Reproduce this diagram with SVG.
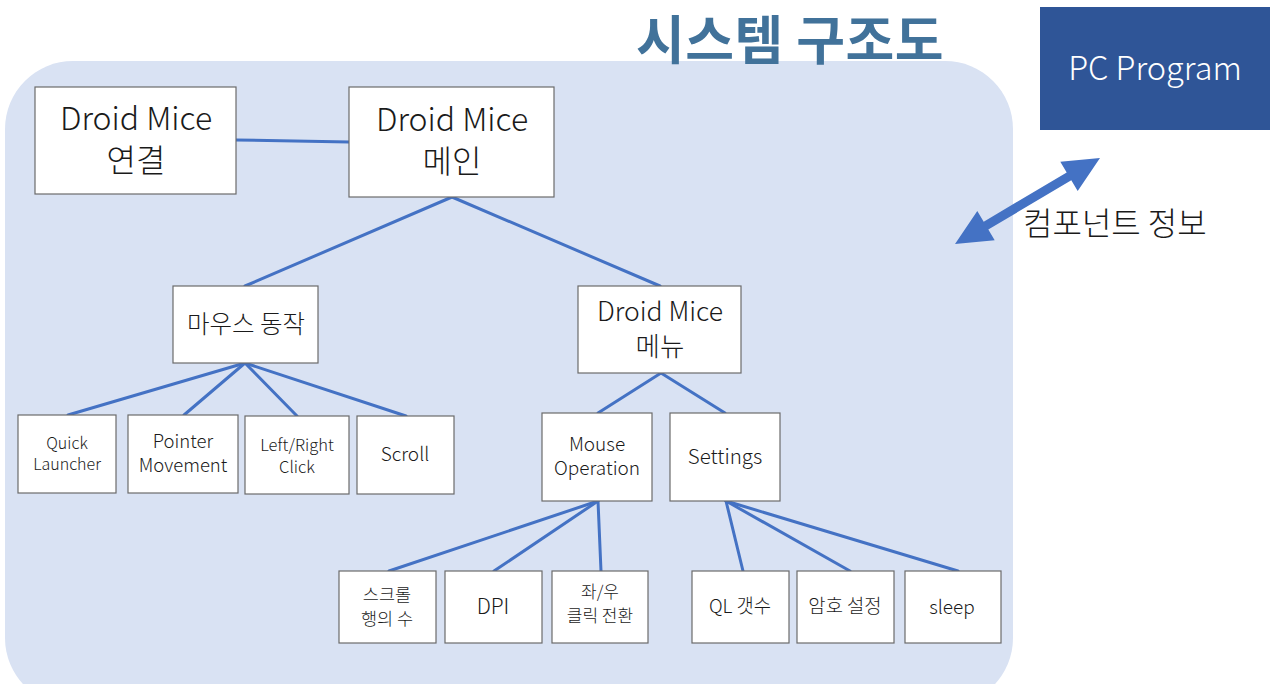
<svg xmlns="http://www.w3.org/2000/svg" width="1273" height="684" viewBox="0 0 1273 684">
  <style>
    text { font-family: "Noto Sans CJK KR", "Noto Sans", sans-serif; font-weight: 300; fill: #1a1a1a; text-anchor: middle; }
    .box { fill: #ffffff; stroke: #6b6b6b; stroke-width: 1.2; }
    .link { stroke: #4472c4; stroke-width: 3; fill: none; stroke-linecap: round; }
    .title { font-weight: 700; fill: #41729a; font-size: 53px; text-anchor: start; letter-spacing: 0.5px; }
  </style>

  <rect width="1273" height="684" fill="#ffffff"/>

  <!-- system area -->
  <rect x="5" y="61" width="1008" height="645" rx="68" ry="68" fill="#d9e2f3"/>

  <text class="title" x="636" y="60">시스템 구조도</text>

  <!-- connectors -->
  <g id="connectors">
    <line class="link" x1="236" y1="140" x2="349" y2="142"/>
    <line class="link" x1="452" y1="197" x2="245" y2="286"/>
    <line class="link" x1="452" y1="197" x2="660" y2="286"/>
    <line class="link" x1="245" y1="363" x2="68" y2="415"/>
    <line class="link" x1="245" y1="363" x2="184" y2="415"/>
    <line class="link" x1="245" y1="363" x2="297" y2="416"/>
    <line class="link" x1="245" y1="363" x2="406" y2="416"/>
    <line class="link" x1="661" y1="373" x2="598" y2="413"/>
    <line class="link" x1="661" y1="373" x2="725" y2="413"/>
    <line class="link" x1="598" y1="501" x2="389" y2="571"/>
    <line class="link" x1="598" y1="501" x2="494" y2="571"/>
    <line class="link" x1="598" y1="501" x2="601" y2="571"/>
    <line class="link" x1="726" y1="501" x2="743" y2="571"/>
    <line class="link" x1="726" y1="501" x2="850" y2="571"/>
    <line class="link" x1="726" y1="501" x2="958" y2="571"/>
    <!-- double arrow to PC program -->
    <polygon fill="#4472c4" points="955,244 994.7,240.2 988.3,229.5 1071.3,180.3 1077.7,191 1100,158 1060.3,161.8 1066.7,172.5 983.7,221.7 977.3,211"/>
  </g>

  <g id="n-connect">
    <rect class="box" x="35" y="87" width="201" height="107"/>
    <text x="136" y="130" font-size="32">Droid Mice</text>
    <text x="136" y="172" font-size="32">연결</text>
  </g>
  <g id="n-main">
    <rect class="box" x="349" y="87" width="205" height="110"/>
    <text x="452" y="131" font-size="32">Droid Mice</text>
    <text x="452" y="173" font-size="32">메인</text>
  </g>
  <g id="n-mouse-action">
    <rect class="box" x="173" y="286" width="145" height="77"/>
    <text x="246" y="333" font-size="24.5">마우스 동작</text>
  </g>
  <g id="n-menu">
    <rect class="box" x="578" y="286" width="163" height="87"/>
    <text x="660" y="321" font-size="26.5">Droid Mice</text>
    <text x="660" y="356" font-size="26.5">메뉴</text>
  </g>

  <g id="n-quick">
    <rect class="box" x="18" y="415" width="98" height="78"/>
    <text x="67" y="449" font-size="16">Quick</text>
    <text x="67" y="470" font-size="16">Launcher</text>
  </g>
  <g id="n-pointer">
    <rect class="box" x="128" y="415" width="110" height="78"/>
    <text x="183" y="448" font-size="18.5">Pointer</text>
    <text x="183" y="472" font-size="18.5">Movement</text>
  </g>
  <g id="n-click">
    <rect class="box" x="245" y="416" width="104" height="78"/>
    <text x="297" y="451" font-size="16.5">Left/Right</text>
    <text x="297" y="473" font-size="16.5">Click</text>
  </g>
  <g id="n-scroll">
    <rect class="box" x="357" y="416" width="97" height="78"/>
    <text x="405" y="461" font-size="19">Scroll</text>
  </g>

  <g id="n-mouse-op">
    <rect class="box" x="542" y="413" width="110" height="88"/>
    <text x="597" y="451" font-size="19">Mouse</text>
    <text x="597" y="475" font-size="19">Operation</text>
  </g>
  <g id="n-settings">
    <rect class="box" x="670" y="413" width="110" height="88"/>
    <text x="725" y="464" font-size="20.5">Settings</text>
  </g>

  <g id="n-scroll-lines">
    <rect class="box" x="339" y="571" width="97" height="72"/>
    <text x="387" y="601" font-size="17.5">스크롤</text>
    <text x="387" y="625" font-size="17.5">행의 수</text>
  </g>
  <g id="n-dpi">
    <rect class="box" x="445" y="571" width="97" height="72"/>
    <text x="493" y="614" font-size="21">DPI</text>
  </g>
  <g id="n-swap">
    <rect class="box" x="552" y="571" width="96" height="72"/>
    <text x="600" y="598" font-size="17">좌/우</text>
    <text x="600" y="622" font-size="17">클릭 전환</text>
  </g>
  <g id="n-ql-count">
    <rect class="box" x="692" y="571" width="97" height="72"/>
    <text x="740" y="613" font-size="18.8">QL 갯수</text>
  </g>
  <g id="n-password">
    <rect class="box" x="797" y="571" width="97" height="72"/>
    <text x="845" y="613" font-size="18.8">암호 설정</text>
  </g>
  <g id="n-sleep">
    <rect class="box" x="905" y="571" width="96" height="72"/>
    <text x="952" y="614" font-size="19" fill="#404040">sleep</text>
  </g>

  <g id="n-pc">
    <rect x="1040" y="7" width="230" height="123" fill="#2f5597"/>
    <text x="1155" y="80" font-size="32.5" style="fill:#ffffff">PC Program</text>
  </g>

  <text x="1023" y="235" font-size="32" style="text-anchor:start">컴포넌트 정보</text>
</svg>
